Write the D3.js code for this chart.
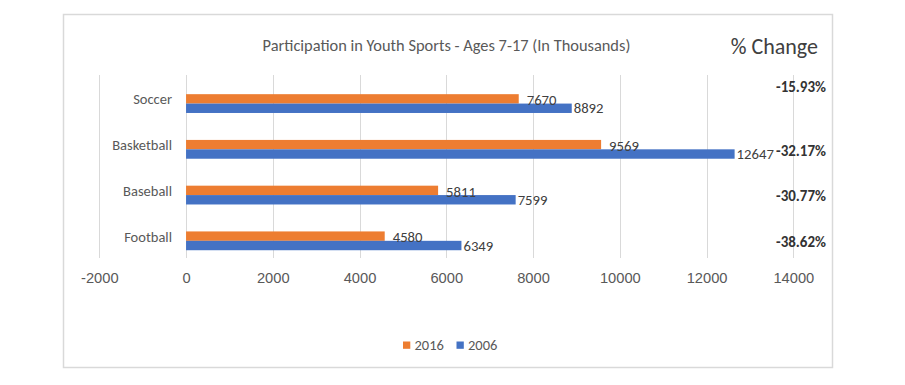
<!DOCTYPE html>
<html>
<head>
<meta charset="utf-8">
<script src="https://cdn.jsdelivr.net/npm/d3@7"></script>
<style>
    body { margin: 0; background: #fff; }
    svg { display: block; font-family: Carlito, Calibri, "Liberation Sans", Arial, sans-serif; }
</style>
</head>
<body>
<div id="chart"></div>
<script>

var categories = ["Soccer", "Basketball", "Baseball", "Football"];
var values2016 = [7670, 9569, 5811, 4580];
var values2006 = [8892, 12647, 7599, 6349];
var pctChange = ["-15.93%", "-32.17%", "-30.77%", "-38.62%"];
var seriesNames = ["2016", "2006"];
var xTicks = [-2000, 0, 2000, 4000, 6000, 8000, 10000, 12000, 14000];

var colors = { "2016": "#ed7d31", "2006": "#4472c4" };

var width = 905,
    height = 385;

var svg = d3.select("#chart").append("svg")
    .attr("width", width)
    .attr("height", height);

// chart frame
svg.append("rect")
    .attr("x", 63.5)
    .attr("y", 14.5)
    .attr("width", 769)
    .attr("height", 353)
    .attr("fill", "#fff")
    .attr("stroke", "#d9d9d9")
    .attr("stroke-width", 1.5);

var x = d3.scaleLinear()
    .domain([-2000, 14000])
    .range([99.3, 793.3]);

var y = d3.scaleBand()
    .domain(categories)
    .range([75, 258]);

var barH = 9.4;

// vertical gridlines
svg.append("g")
    .selectAll("line")
    .data(xTicks)
    .enter()
    .append("line")
    .attr("x1", function(d) { return Math.round(x(d)) + 0.5; })
    .attr("x2", function(d) { return Math.round(x(d)) + 0.5; })
    .attr("y1", 75)
    .attr("y2", 258)
    .attr("stroke", "#d9d9d9")
    .attr("stroke-width", 1);

// x axis labels
var xAxis = d3.axisBottom(x)
    .tickValues(xTicks)
    .tickSize(0)
    .tickPadding(0)
    .tickFormat(function(d) { return String(d); });

var gx = svg.append("g")
    .attr("transform", "translate(0, 272)")
    .call(xAxis);
gx.select(".domain").remove();
gx.selectAll("text")
    .attr("fill", "#595959")
    .attr("dy", "0.35em")
    .attr("y", 6)
    .style("font-size", "14.7px");

// category labels
svg.append("g")
    .selectAll("text")
    .data(categories)
    .enter()
    .append("text")
    .attr("x", 172)
    .attr("y", function(d) { return y(d) + y.bandwidth() / 2 + 1.5; })
    .attr("dy", "0.35em")
    .attr("text-anchor", "end")
    .attr("fill", "#595959")
    .style("font-size", "14.5px")
    .text(function(d) { return d; });

var rows = categories.map(function(c, i) {
    return { cat: c, v2016: values2016[i], v2006: values2006[i], pct: pctChange[i] };
});

var groups = svg.append("g")
    .selectAll("g")
    .data(rows)
    .enter()
    .append("g")
    .attr("transform", function(d) {
        return "translate(0," + (y(d.cat) + y.bandwidth() / 2 + 5.7) + ")";
    });

// 2016 bars (top) and 2006 bars (bottom)
groups.append("rect")
    .attr("x", x(0))
    .attr("y", -barH)
    .attr("width", function(d) { return x(d.v2016) - x(0); })
    .attr("height", barH)
    .attr("fill", colors["2016"]);

groups.append("rect")
    .attr("x", x(0))
    .attr("y", 0)
    .attr("width", function(d) { return x(d.v2006) - x(0); })
    .attr("height", barH)
    .attr("fill", colors["2006"]);

// value labels
groups.append("text")
    .attr("x", function(d) { return x(d.v2016) + 8; })
    .attr("y", -barH / 2 + 1)
    .attr("dy", "0.35em")
    .attr("fill", "#404040")
    .style("font-size", "14.7px")
    .text(function(d) { return d.v2016; });

groups.append("text")
    .attr("x", function(d) { return x(d.v2006) + 2; })
    .attr("y", barH / 2)
    .attr("dy", "0.35em")
    .attr("fill", "#404040")
    .style("font-size", "14.7px")
    .text(function(d) { return d.v2006; });

// % change text boxes
groups.append("text")
    .attr("x", 826)
    .attr("y", function(d) { return d.cat === "Soccer" ? -16.5 : 1; })
    .attr("dy", "0.35em")
    .attr("text-anchor", "end")
    .attr("fill", "#333")
    .style("font-size", "15px")
    .style("font-weight", "bold")
    .text(function(d) { return d.pct; });

// titles
svg.append("text")
    .attr("x", 446.5)
    .attr("y", 45)
    .attr("dy", "0.35em")
    .attr("text-anchor", "middle")
    .attr("fill", "#595959")
    .style("font-size", "16.4px")
    .text("Participation in Youth Sports - Ages 7-17 (In Thousands)");

svg.append("text")
    .attr("x", 818)
    .attr("y", 46)
    .attr("dy", "0.35em")
    .attr("text-anchor", "end")
    .attr("fill", "#404040")
    .style("font-size", "22px")
    .text("% Change");

// legend
var legendX = [403, 456.5];
var legend = svg.append("g")
    .selectAll("g")
    .data(seriesNames)
    .enter()
    .append("g")
    .attr("transform", function(d, i) { return "translate(" + legendX[i] + ", 345)"; });

legend.append("rect")
    .attr("x", 0)
    .attr("y", -3.5)
    .attr("width", 7.3)
    .attr("height", 7.3)
    .attr("fill", function(d) { return colors[d]; });

legend.append("text")
    .attr("x", 11.5)
    .attr("y", 0)
    .attr("dy", "0.35em")
    .attr("fill", "#595959")
    .style("font-size", "14.5px")
    .text(function(d) { return d; });

</script>
</body>
</html>
